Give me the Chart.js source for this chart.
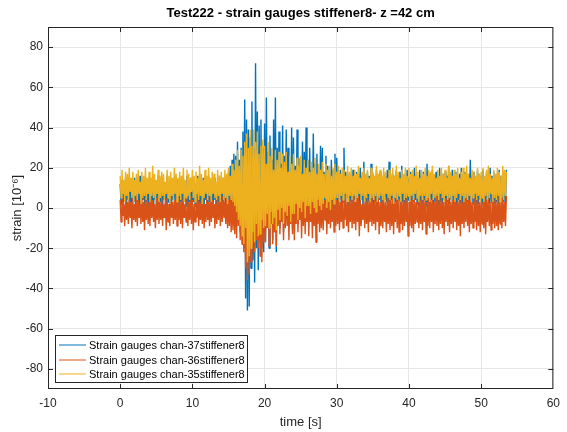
<!DOCTYPE html>
<html>
<head>
<meta charset="utf-8">
<script src="https://cdn.jsdelivr.net/npm/chart.js@4.4.1/dist/chart.umd.min.js"></script>
<style>
  html, body { margin: 0; padding: 0; background: #fff; }
  #wrap { width: 567px; height: 432px; }
</style>
</head>
<body>
<div id="wrap"><canvas id="strainChart" width="567" height="432"></canvas></div>
<script>
const chartTitle = 'Test222 - strain gauges stiffener8- z =42 cm';
const xLabel = 'time [s]';
const yLabel = 'strain [10\u207B\u2076]';
const xTicks = [-10, 0, 10, 20, 30, 40, 50, 60];
const yTicks = [-80, -60, -40, -20, 0, 20, 40, 60, 80];
const seriesLabels = [
    'Strain gauges chan-37stiffener8',
    'Strain gauges chan-36stiffener8',
    'Strain gauges chan-35stiffener8'
];
const seriesColors = ['#0072BD', '#D95319', '#EDB120'];

// sample clock of the recording (s)
const sampleStart = 0;
const sampleStep = 0.125;

// strain, alternating peaks and troughs (10^-6), one row = 2 s
const chan37 = [
    12, 2, 14, 0, 11, 3, 15, 1, 13, 4, 10, -1, 14, 2, 12, 3,
    15, 1, 11, 3, 13, 0, 16, 2, 12, 4, 14, 1, 10, 3, 13, -1,
    11, 3, 15, 2, 12, 0, 14, 4, 13, 1, 16, 2, 11, 3, 14, 0,
    13, 4, 10, 1, 16, 3, 12, -1, 15, 2, 11, 4, 14, 1, 12, 2,
    14, 0, 12, 3, 15, 2, 11, 4, 13, 1, 16, -1, 12, 3, 15, 2,
    10, 3, 14, 1, 12, 4, 16, 0, 13, 2, 11, 3, 15, 1, 14, 4,
    12, 1, 16, 3, 11, 0, 14, 2, 15, 4, 12, 1, 13, 3, 16, 0,
    13, 2, 15, 4, 12, 1, 16, 3, 18, 0, 21, -3, 24, -1, 27, -6,
    26, -8, 33, -4, 24, -12, 30, -15, 38, -20, 54, -45, 44, -51, 39, -49,
    35, -30, 53, -26, 30, -37, 72, -20, 48, -31, 41, -15, 44, -20, 30, -22,
    42, -17, 55, -9, 28, -20, 36, -6, 24, -16, 44, -12, 55, -22, 30, -8,
    38, -10, 22, -4, 41, -12, 26, -7, 39, -3, 30, -9, 20, -6, 40, -11,
    35, -6, 21, -2, 39, -8, 25, -4, 18, -7, 33, -1, 28, -5, 40, -3,
    24, -5, 30, 1, 19, -4, 37, -2, 22, -6, 27, 0, 17, -3, 31, -1,
    30, -2, 18, 2, 26, -1, 21, 3, 16, -3, 24, 1, 19, 0, 27, 2,
    25, 2, 17, 4, 19, 1, 16, 3, 30, 2, 18, 5, 15, 1, 17, 3,
    16, 2, 19, 4, 15, 0, 18, 3, 17, 1, 20, 4, 16, 2, 23, 3,
    15, 1, 18, 3, 16, 4, 22, 2, 17, 0, 15, 3, 19, 2, 16, 4,
    18, 2, 15, 1, 17, 4, 16, 3, 19, 0, 23, 2, 15, 4, 17, 1,
    16, 3, 19, 2, 15, 4, 18, 1, 21, 3, 16, 2, 17, 0, 19, 4,
    15, 2, 18, 1, 16, 3, 20, 4, 17, 2, 15, 0, 19, 3, 16, 2,
    18, 4, 15, 1, 22, 3, 17, 2, 16, 4, 19, 1, 15, 3, 18, 2,
    16, 1, 20, 3, 15, 2, 17, 4, 18, 0, 16, 3, 21, 2, 15, 4,
    19, 2, 16, 3, 18, 1, 15, 4, 17, 2, 20, 0, 16, 3, 18, 2,
    15, 3, 17, 1, 24, 4, 16, 2, 18, 3, 15, 0, 19, 2, 17, 4,
    16, 2, 19, 3, 15, 1, 18, 4, 17, 2, 20, 3, 16, 0, 18, 2,
    15, 3, 17, 2, 19, 4, 16, 1, 18, 3, 17, 2, 19
];
const chan36 = [
    4, -7, 6, -4, 2, -9, 5, -6, 3, -8, 7, -5, 3, -10, 5, -6,
    2, -7, 6, -9, 4, -5, 2, -8, 6, -7, 3, -11, 5, -6, 4, -8,
    3, -9, 7, -5, 4, -7, 2, -10, 5, -6, 6, -8, 3, -6, 5, -9,
    2, -5, 4, -11, 5, -7, 2, -9, 6, -5, 3, -8, 4, -6, 7, -9,
    5, -6, 3, -8, 6, -10, 4, -5, 2, -7, 5, -9, 3, -6, 6, -8,
    4, -11, 2, -7, 5, -5, 7, -9, 3, -6, 4, -8, 6, -10, 2, -7,
    5, -6, 3, -9, 6, -7, 4, -5, 2, -10, 5, -8, 3, -6, 7, -9,
    4, -7, 6, -5, 3, -8, 5, -10, 4, -9, 6, -12, 5, -11, 7, -13,
    8, -15, 11, -9, 10, -16, 7, -18, 12, -22, 9, -30, 16, -36, 11, -33,
    14, -27, 10, -18, 18, -22, 12, -16, 15, -20, 9, -24, 13, -27, 11, -17,
    14, -17, 8, -10, 13, -19, 10, -8, 15, -18, 9, -12, 11, -19, 7, -9,
    10, -13, 6, -7, 11, -16, 8, -10, 10, -9, 7, -16, 11, -8, 8, -13,
    9, -16, 5, -8, 10, -12, 7, -6, 9, -15, 6, -9, 8, -13, 5, -7,
    6, -14, 8, -7, 7, -15, 5, -9, 9, -17, 6, -8, 7, -12, 4, -10,
    7, -11, 4, -6, 6, -13, 5, -8, 7, -10, 3, -7, 6, -12, 4, -9,
    4, -8, 6, -11, 3, -7, 5, -10, 4, -6, 6, -9, 3, -12, 5, -7,
    4, -10, 6, -8, 3, -11, 5, -7, 6, -14, 4, -9, 2, -6, 5, -10,
    3, -8, 6, -12, 4, -7, 5, -9, 3, -8, 6, -11, 4, -7, 5, -13,
    3, -9, 6, -10, 4, -7, 3, -12, 5, -8, 6, -11, 4, -9, 5, -13,
    3, -7, 6, -10, 4, -12, 5, -8, 3, -11, 6, -9, 4, -7, 5, -14,
    3, -9, 6, -10, 4, -12, 5, -8, 3, -7, 5, -10, 4, -8, 6, -11,
    4, -7, 5, -13, 3, -9, 6, -10, 4, -7, 5, -12, 3, -8, 6, -9,
    5, -11, 4, -8, 6, -10, 3, -13, 5, -7, 4, -9, 6, -12, 3, -8,
    4, -10, 6, -7, 3, -11, 5, -9, 4, -14, 6, -8, 3, -10, 5, -7,
    6, -9, 4, -12, 5, -8, 3, -10, 6, -7, 4, -11, 5, -9, 3, -12,
    5, -8, 3, -10, 6, -13, 4, -7, 5, -9, 3, -11, 6, -8, 4, -10,
    5, -9, 3, -11, 6, -8, 4, -10, 5, -7, 3, -9, 6
];
const chan35 = [
    16, 5, 19, 7, 14, 3, 18, 6, 17, 4, 20, 8, 15, 5, 18, 3,
    14, 6, 17, 4, 19, 7, 13, 2, 18, 5, 16, 6, 20, 4, 15, 7,
    18, 3, 15, 6, 21, 5, 17, 4, 14, 7, 19, 3, 16, 5, 18, 6,
    17, 4, 13, 7, 19, 5, 16, 2, 18, 6, 15, 4, 20, 7, 17, 3,
    15, 6, 18, 4, 16, 7, 20, 3, 14, 5, 19, 6, 17, 4, 15, 8,
    19, 5, 16, 3, 18, 7, 15, 4, 21, 6, 17, 2, 14, 5, 19, 7,
    16, 4, 20, 6, 15, 3, 18, 7, 17, 5, 13, 4, 19, 6, 16, 3,
    18, 7, 15, 4, 19, 5, 17, 2, 20, 6, 16, 4, 22, 3, 19, 1,
    24, -2, 29, -6, 21, -9, 29, -14, 26, -18, 33, -10, 37, -27, 30, -24,
    39, -20, 31, -12, 39, -17, 33, -8, 38, -14, 27, -13, 31, -6, 34, -10,
    31, -9, 22, -3, 33, -10, 26, -2, 30, -8, 19, -5, 29, -11, 24, -1,
    28, -6, 20, 0, 27, -8, 23, -2, 28, -4, 18, 1, 26, -7, 22, -3,
    27, -3, 19, 2, 25, -6, 21, 0, 26, -2, 17, 3, 24, -5, 20, 1,
    24, 1, 18, -3, 23, 3, 20, 0, 25, -2, 17, 4, 22, 1, 19, -1,
    23, 2, 17, 5, 22, 0, 19, 3, 21, -1, 16, 4, 20, 2, 22, 5,
    18, 5, 21, 3, 17, 6, 20, 4, 19, 7, 16, 5, 21, 3, 18, 6,
    20, 4, 16, 6, 19, 3, 17, 5, 21, 7, 15, 4, 18, 6, 20, 3,
    17, 5, 19, 7, 15, 3, 20, 5, 18, 4, 16, 6, 21, 3, 17, 5,
    19, 6, 16, 4, 20, 3, 18, 7, 15, 5, 19, 4, 17, 6, 20, 2,
    16, 5, 21, 4, 18, 6, 15, 3, 19, 7, 17, 4, 20, 5, 16, 6,
    20, 3, 17, 6, 19, 4, 16, 7, 21, 5, 18, 3, 15, 6, 19, 4,
    17, 6, 20, 4, 16, 5, 19, 3, 18, 7, 21, 4, 17, 5, 15, 6,
    19, 4, 16, 7, 20, 5, 17, 3, 19, 6, 15, 4, 21, 5, 18, 3,
    16, 6, 19, 3, 17, 5, 20, 7, 15, 4, 18, 6, 20, 3, 17, 5,
    21, 4, 17, 6, 15, 3, 19, 5, 18, 7, 16, 4, 20, 6, 17, 3,
    18, 5, 20, 3, 16, 6, 19, 4, 21, 5, 17, 7, 15, 3, 19, 5,
    17, 4, 20, 6, 18, 3, 16, 5, 21, 4, 19, 6, 18
];

const fontFamily = '"Liberation Sans", Arial, Helvetica, sans-serif';
const axisColor = '#262626';

function toPoints(values) {
    return values.map((v, i) => ({ x: sampleStart + i * sampleStep, y: v }));
}

// title centred over the axes, like MATLAB
const axesTitlePlugin = {
    id: 'axesTitle',
    afterDraw(chart) {
        const { ctx, chartArea: a } = chart;
        ctx.save();
        ctx.font = 'bold 13px ' + fontFamily;
        ctx.fillStyle = '#000';
        ctx.textAlign = 'center';
        ctx.textBaseline = 'middle';
        ctx.fillText(chartTitle, (a.left + a.right) / 2, 13);
        ctx.restore();
    }
};

// MATLAB style box with inward ticks
const axesBoxPlugin = {
    id: 'axesBox',
    afterDraw(chart) {
        const { ctx, chartArea: a, scales } = chart;
        ctx.save();
        ctx.strokeStyle = axisColor;
        ctx.lineWidth = 1;
        ctx.strokeRect(a.left + 0.5, a.top + 0.5, a.right - a.left - 1, a.bottom - a.top - 1);

        const tl = 5;
        ctx.beginPath();
        xTicks.forEach(v => {
            const px = Math.round(scales.x.getPixelForValue(v)) + 0.5;
            if (px <= a.left + 1 || px >= a.right - 1) return;
            ctx.moveTo(px, a.bottom);
            ctx.lineTo(px, a.bottom - tl);
            ctx.moveTo(px, a.top);
            ctx.lineTo(px, a.top + tl);
        });
        yTicks.forEach(v => {
            const py = Math.round(scales.y.getPixelForValue(v)) + 0.5;
            ctx.moveTo(a.left, py);
            ctx.lineTo(a.left + tl, py);
            ctx.moveTo(a.right, py);
            ctx.lineTo(a.right - tl, py);
        });
        ctx.stroke();
        ctx.restore();
    }
};

// legend box in the lower left corner of the axes
const boxLegendPlugin = {
    id: 'boxLegend',
    afterDraw(chart) {
        const { ctx, chartArea: a } = chart;
        const x0 = a.left + 7;
        const y0 = a.bottom - 54;
        const w = 192;
        const h = 47;
        ctx.save();
        ctx.fillStyle = '#fff';
        ctx.fillRect(x0, y0, w, h);
        ctx.strokeStyle = axisColor;
        ctx.lineWidth = 1;
        ctx.strokeRect(x0 + 0.5, y0 + 0.5, w, h);

        ctx.font = '11px ' + fontFamily;
        ctx.textBaseline = 'middle';
        ctx.textAlign = 'left';
        seriesLabels.forEach((label, i) => {
            const y = Math.round(y0 + 10 + i * 14.5);
            ctx.strokeStyle = seriesColors[i];
            ctx.beginPath();
            ctx.moveTo(x0 + 4, y);
            ctx.lineTo(x0 + 31, y);
            ctx.stroke();
            ctx.fillStyle = '#000';
            ctx.fillText(label, x0 + 34, y + 0.5);
        });
        ctx.restore();
    }
};

const canvas = document.getElementById('strainChart');

new Chart(canvas, {
    type: 'line',
    data: {
        datasets: [
            { label: seriesLabels[0], data: toPoints(chan37), borderColor: seriesColors[0], order: 3 },
            { label: seriesLabels[1], data: toPoints(chan36), borderColor: seriesColors[1], order: 2 },
            { label: seriesLabels[2], data: toPoints(chan35), borderColor: seriesColors[2], order: 1 }
        ]
    },
    options: {
        responsive: false,
        animation: false,
        devicePixelRatio: 1,
        layout: { padding: { left: 0, right: 10, top: 27, bottom: 0 } },
        elements: {
            point: { radius: 0 },
            line: { borderWidth: 1.4, tension: 0, borderJoinStyle: 'bevel' }
        },
        scales: {
            x: {
                type: 'linear',
                min: -10,
                max: 60,
                afterBuildTicks(s) { s.ticks = xTicks.map(v => ({ value: v })); },
                afterFit(s) { s.height = 43; },
                grid: { color: '#e6e6e6', drawTicks: false },
                border: { display: false },
                ticks: {
                    color: axisColor,
                    font: { size: 12, family: fontFamily },
                    padding: 7,
                    maxRotation: 0
                },
                title: {
                    display: true,
                    text: xLabel,
                    color: axisColor,
                    font: { size: 13, family: fontFamily },
                    padding: { top: 0, bottom: 2 }
                }
            },
            y: {
                type: 'linear',
                min: -90,
                max: 90,
                afterBuildTicks(s) { s.ticks = yTicks.map(v => ({ value: v })); },
                afterFit(s) { s.width = 48; },
                grid: { color: '#e6e6e6', drawTicks: false },
                border: { display: false },
                ticks: {
                    color: axisColor,
                    font: { size: 12, family: fontFamily },
                    padding: 5
                },
                title: {
                    display: true,
                    text: yLabel,
                    color: axisColor,
                    font: { size: 13, family: fontFamily },
                    padding: { top: 10, bottom: 0 }
                }
            }
        },
        plugins: {
            legend: { display: false },
            tooltip: { enabled: false },
            title: { display: false }
        }
    },
    plugins: [axesBoxPlugin, boxLegendPlugin, axesTitlePlugin]
});
</script>
</body>
</html>
